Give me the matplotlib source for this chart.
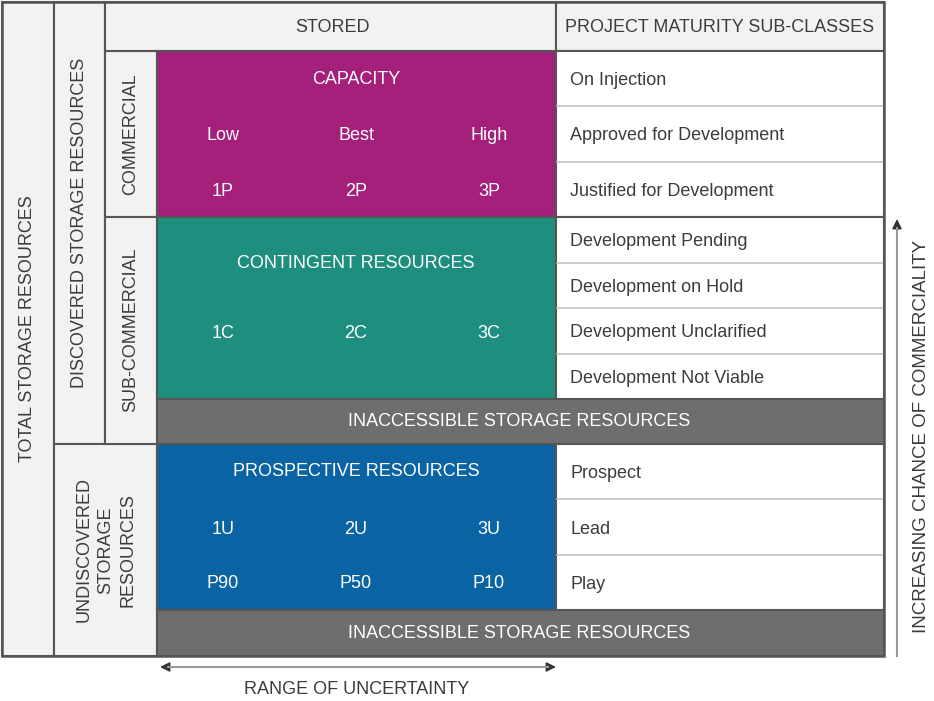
import matplotlib.pyplot as plt
from matplotlib.patches import Rectangle

plt.rcParams['font.family'] = ['Liberation Sans', 'DejaVu Sans']

# ---- content ----
capacity_title = 'CAPACITY'
capacity_cols = ['Low', 'Best', 'High']
capacity_codes = ['1P', '2P', '3P']
contingent_title = 'CONTINGENT RESOURCES'
contingent_codes = ['1C', '2C', '3C']
prospective_title = 'PROSPECTIVE RESOURCES'
prospective_codes = ['1U', '2U', '3U']
prospective_probs = ['P90', 'P50', 'P10']
inaccessible = 'INACCESSIBLE STORAGE RESOURCES'
commercial_classes = ['On Injection', 'Approved for Development', 'Justified for Development']
subcommercial_classes = ['Development Pending', 'Development on Hold',
                         'Development Unclarified', 'Development Not Viable']
undiscovered_classes = ['Prospect', 'Lead', 'Play']

# ---- colours ----
magenta = '#A4207B'
teal = '#1E8F7F'
blue = '#0A64A3'
grey = '#6E6E6E'
light = '#F2F2F2'
edge = '#555555'
txt = '#3C3C3C'

fig = plt.figure(figsize=(9.34, 7.01), dpi=100)
ax = fig.add_axes([0, 0, 1, 1])
ax.set_xlim(0, 934)
ax.set_ylim(701, 0)
ax.axis('off')

fs = 13
dy = 2  # nudge so the capitals sit on the row centre


def box(x0, y0, x1, y1, fc, ec=edge, lw=1.5, z=1):
    ax.add_patch(Rectangle((x0, y0), x1 - x0, y1 - y0, fc=fc, ec=ec, lw=lw, zorder=z))


def label(x, y, s, color=txt, ha='center', **kw):
    ax.text(x, y + dy, s, ha=ha, va='center', fontsize=fs, color=color, zorder=6, **kw)


# left label columns
box(2, 2, 54, 656, light)
box(54, 2, 105, 444, light)
box(54, 444, 157, 656, light)
box(105, 51, 157, 217, light)
box(105, 217, 157, 444, light)
# headers
box(105, 2, 556, 51, light)
box(556, 2, 884, 51, light)

# coloured blocks
box(157, 51, 556, 217, magenta)
box(157, 217, 556, 399, teal)
box(157, 399, 884, 444, grey)
box(157, 444, 556, 610, blue)
box(157, 610, 884, 656, grey)


# right column cells
def class_rows(y0, y1, labels):
    h = (y1 - y0) / len(labels)
    box(556, y0, 884, y1, 'white')
    for i, lab in enumerate(labels):
        if i > 0:
            ax.plot([557, 883], [y0 + h * i] * 2, color='#C4C4C4', lw=1.2, zorder=2)
        label(570, y0 + h * (i + 0.5), lab, ha='left')


class_rows(51, 217, commercial_classes)
class_rows(217, 399, subcommercial_classes)
class_rows(444, 610, undiscovered_classes)

# outer frame
box(2, 2, 884, 656, 'none', lw=1.8, z=4)

# header texts
label(332, 25, 'STORED')
label(720, 25, 'PROJECT MATURITY SUB-CLASSES')

# rotated labels
ax.text(28, 329, 'TOTAL STORAGE RESOURCES', rotation=90, ha='center', va='center', fontsize=fs, color=txt)
ax.text(80, 223, 'DISCOVERED STORAGE RESOURCES', rotation=90, ha='center', va='center', fontsize=fs, color=txt)
ax.text(131, 134, 'COMMERCIAL', rotation=90, ha='center', va='center', fontsize=fs, color=txt)
ax.text(131, 330, 'SUB-COMMERCIAL', rotation=90, ha='center', va='center', fontsize=fs, color=txt)
ax.text(106, 550, 'UNDISCOVERED\nSTORAGE\nRESOURCES', rotation=90, ha='center', va='center',
        fontsize=fs, color=txt, linespacing=1.35, multialignment='center')

# block texts
col_x = [223, 356, 489]
w = 'white'
label(356, 77, capacity_title, color=w)
for x, a, b in zip(col_x, capacity_cols, capacity_codes):
    label(x, 134, a, color=w)
    label(x, 189, b, color=w)
label(356, 262, contingent_title, color=w)
for x, c in zip(col_x, contingent_codes):
    label(x, 331, c, color=w)
label(356, 470, prospective_title, color=w)
for x, a, b in zip(col_x, prospective_codes, prospective_probs):
    label(x, 527, a, color=w)
    label(x, 582, b, color=w)
label(519, 420, inaccessible, color=w)
label(519, 632, inaccessible, color=w)

# arrows
ax.annotate('', xy=(160, 667), xytext=(556, 667),
            arrowprops=dict(arrowstyle='<|-|>', color='#333333', lw=1.2,
                            mutation_scale=14, shrinkA=0, shrinkB=0))
ax.plot([168, 548], [667, 667], color='#999999', lw=1.5, zorder=5)
label(357, 688, 'RANGE OF UNCERTAINTY')

ax.annotate('', xy=(897, 219), xytext=(897, 656),
            arrowprops=dict(arrowstyle='-|>', color='#333333', lw=1.2,
                            mutation_scale=14, shrinkA=0, shrinkB=0))
ax.plot([897, 897], [228, 656], color='#999999', lw=1.5, zorder=5)
ax.text(921, 436, 'INCREASING CHANCE OF COMMERCIALITY', rotation=90, ha='center', va='center',
        fontsize=fs + 0.5, color=txt)

fig.savefig('out.png', dpi=100)
